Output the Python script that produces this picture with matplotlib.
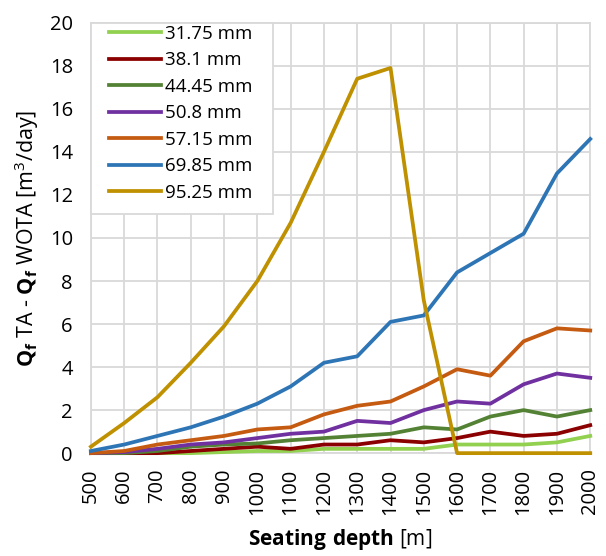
import matplotlib
matplotlib.use("Agg")
import matplotlib.pyplot as plt
from matplotlib.patches import Rectangle

# data
depth = [500, 600, 700, 800, 900, 1000, 1100, 1200, 1300, 1400, 1500, 1600, 1700, 1800, 1900, 2000]

d_3175 = [0, 0, 0, 0, 0.05, 0.1, 0.1, 0.2, 0.2, 0.2, 0.2, 0.4, 0.4, 0.4, 0.5, 0.8]
d_381 = [0, 0, 0, 0.1, 0.2, 0.3, 0.2, 0.4, 0.4, 0.6, 0.5, 0.7, 1.0, 0.8, 0.9, 1.3]
d_4445 = [0, 0, 0.1, 0.3, 0.4, 0.45, 0.6, 0.7, 0.8, 0.9, 1.2, 1.1, 1.7, 2.0, 1.7, 2.0]
d_508 = [0, 0.05, 0.2, 0.4, 0.5, 0.7, 0.9, 1.0, 1.5, 1.4, 2.0, 2.4, 2.3, 3.2, 3.7, 3.5]
d_5715 = [0, 0.1, 0.4, 0.6, 0.8, 1.1, 1.2, 1.8, 2.2, 2.4, 3.1, 3.9, 3.6, 5.2, 5.8, 5.7]
d_6985 = [0.1, 0.4, 0.8, 1.2, 1.7, 2.3, 3.1, 4.2, 4.5, 6.1, 6.4, 8.4, 9.3, 10.2, 13.0, 14.6]
d_9525 = [0.3, 1.4, 2.6, 4.2, 5.9, 8.0, 10.7, 14.0, 17.4, 17.9, 7.1, 0, 0, 0, 0, 0]

labels = ["31.75 mm", "38.1 mm", "44.45 mm", "50.8 mm", "57.15 mm", "69.85 mm", "95.25 mm"]
colors = ["#92D050", "#8B0000", "#548235", "#7030A0", "#C55A11", "#2E75B6", "#BF9000"]

plt.rcParams['font.family'] = ['Open Sans', 'DejaVu Sans']
plt.rcParams['mathtext.fontset'] = 'custom'
plt.rcParams['mathtext.rm'] = 'Open Sans'
plt.rcParams['mathtext.bf'] = 'Open Sans:bold'

fig = plt.figure(figsize=(6.06, 5.56), dpi=100)
ax = fig.add_axes([0.150, 0.185, 0.824, 0.774])

series = [d_3175, d_381, d_4445, d_508, d_5715, d_6985, d_9525]
for vals, lab, col in zip(series, labels, colors):
    ax.plot(depth, vals, color=col, lw=2.7, label=lab, clip_on=False, zorder=3)

ax.set_xlim(500, 2000)
ax.set_ylim(0, 20)
ax.set_xticks(depth)
ax.set_xticklabels([str(d) for d in depth], rotation=90)
ax.set_yticks(range(0, 21, 2))
ax.tick_params(axis='both', labelsize=14.5, length=0)
ax.tick_params(axis='y', pad=13)
ax.tick_params(axis='x', pad=11)
ax.grid(True, color='#D9D9D9', lw=1.3)
ax.set_axisbelow(True)
for s in ax.spines.values():
    s.set_color('#D9D9D9')
    s.set_linewidth(1.3)

ax.set_xlabel(r"$\mathbf{Seating\ depth}$ [m]", fontsize=15, labelpad=9)
ax.set_ylabel(r"$\mathbf{Q_f}$ TA - $\mathbf{Q_f}$ WOTA [m$^3$/day]", fontsize=15.5, labelpad=6)

# white legend box covering the upper-left of the plot
box = Rectangle((0, 0.556), 0.365, 0.444, transform=ax.transAxes,
                facecolor='white', edgecolor='#D9D9D9', lw=1.3, zorder=4, clip_on=False)
ax.add_patch(box)

leg = ax.legend(loc='upper left', bbox_to_anchor=(0.036, 0.995), fontsize=13.5, frameon=False,
                handlelength=2.8, handletextpad=0.2, labelspacing=0.45,
                borderaxespad=0.0, borderpad=0.0)
leg.set_zorder(5)

fig.savefig("out.png", dpi=100)
